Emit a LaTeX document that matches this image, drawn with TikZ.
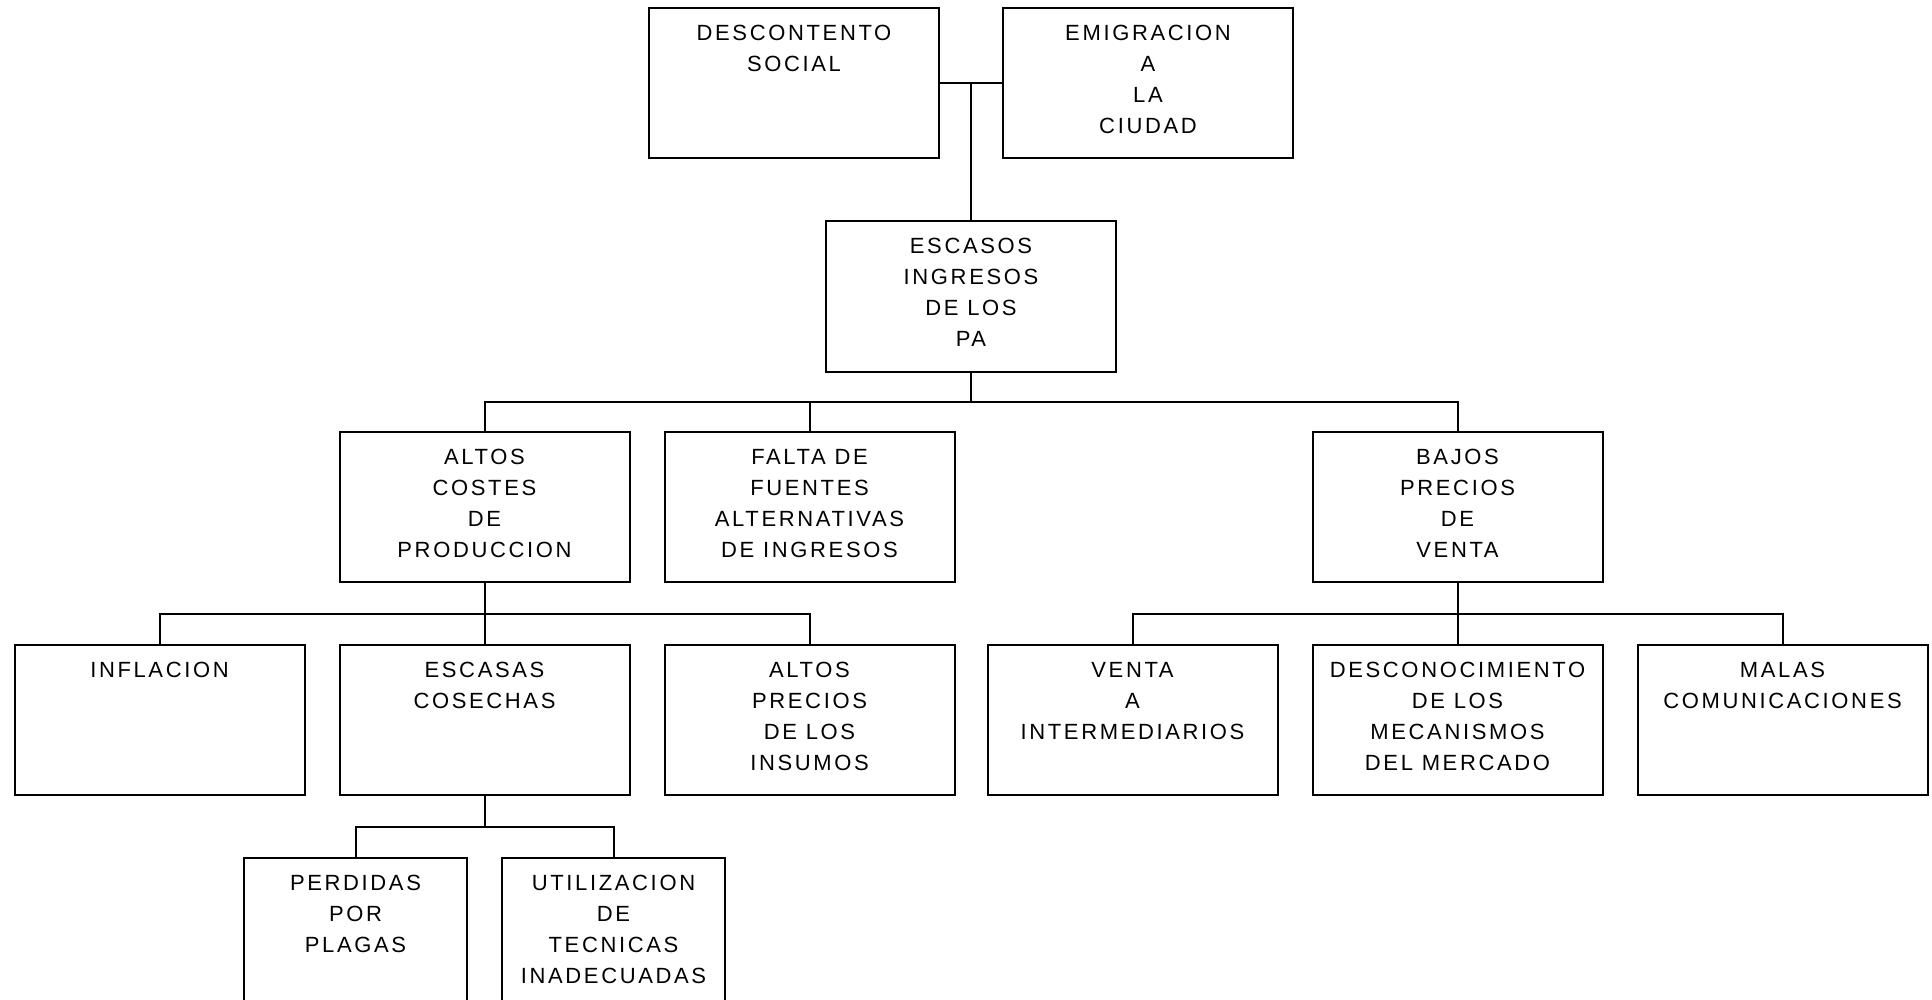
\documentclass[tikz,border=0pt]{standalone}
\usepackage{fontspec}
\setmainfont{Liberation Sans}[LetterSpace=12]
\usepackage{tikz}
\usetikzlibrary{positioning, calc}

% text of a box, set from its top edge
\newcommand{\caja}[2][145pt]{\parbox[c][75pt][t]{#1}{\centering\rule{0pt}{16pt}#2}}

\begin{document}
\begin{tikzpicture}[x=0.5pt, y=-0.5pt, line width=1pt, font=\fontsize{11}{15.5}\selectfont]
        % Styles
        \tikzstyle{box} = [draw, rectangle, inner sep=0pt]

        \useasboundingbox (0,0) rectangle (1932,1000);
        \clip (0,0) rectangle (1932,1000);

        % Nodes
        \node [box] (ingresos) at (971,296.5) {\caja{ESCASOS\\INGRESOS\\DE LOS\\PA}};
        \node [box, anchor=south east] (descontento) at ([xshift=-15.5pt, yshift=30.5pt]ingresos.north) {\caja{DESCONTENTO\\SOCIAL}};
        \node [box, anchor=south west] (emigracion) at ([xshift=15.5pt, yshift=30.5pt]ingresos.north) {\caja{EMIGRACION\\A\\LA\\CIUDAD}};

        \node [box] (altos) at (484.5,507) {\caja{ALTOS\\COSTES\\DE\\PRODUCCION}};
        \node [box, right=16.5pt of altos] (falta) {\caja{FALTA DE\\FUENTES\\ALTERNATIVAS\\DE INGRESOS}};
        \node [box] (bajos) at (1457.5,507) {\caja{BAJOS\\PRECIOS\\DE\\VENTA}};

        \node [box, below=30.5pt of altos] (escasas) {\caja{ESCASAS\\COSECHAS}};
        \node [box, left=16.5pt of escasas] (inflacion) {\caja{INFLACION}};
        \node [box, right=16.5pt of escasas] (insumos) {\caja{ALTOS\\PRECIOS\\DE LOS\\INSUMOS}};

        \node [box, below=30.5pt of bajos] (desconocimiento) {\caja{DESCONOCIMIENTO\\DE LOS\\MECANISMOS\\DEL MERCADO}};
        \node [box, left=16.5pt of desconocimiento] (venta) {\caja{VENTA\\A\\INTERMEDIARIOS}};
        \node [box, right=16.5pt of desconocimiento] (malas) {\caja{MALAS\\COMUNICACIONES}};

        \node [box, below left=30.5pt and 8.25pt of escasas.south] (perdidas) {\caja[111.5pt]{PERDIDAS\\POR\\PLAGAS}};
        \node [box, below right=30.5pt and 8.25pt of escasas.south] (tecnicas) {\caja[111.5pt]{UTILIZACION\\DE\\TECNICAS\\INADECUADAS}};

        % Lines
        \draw (descontento.east) -- (emigracion.west);
        \draw (ingresos.north) -- (ingresos.north |- descontento.east);

        \coordinate (bus1) at ($(ingresos.south)!0.5!(ingresos.south |- altos.north)$);
        \draw (ingresos.south) -- (bus1);
        \draw (altos.north) |- (bus1) -| (bajos.north);
        \draw (falta.north) -- (falta.north |- bus1);

        \coordinate (bus2) at ($(altos.south)!0.5!(escasas.north)$);
        \draw (altos.south) -- (escasas.north);
        \draw (inflacion.north) |- (bus2) -| (insumos.north);

        \coordinate (bus3) at ($(bajos.south)!0.5!(desconocimiento.north)$);
        \draw (bajos.south) -- (desconocimiento.north);
        \draw (venta.north) |- (bus3) -| (malas.north);

        \coordinate (bus4) at ($(escasas.south)!0.5!(escasas.south |- perdidas.north)$);
        \draw (escasas.south) -- (bus4);
        \draw (perdidas.north) |- (bus4) -| (tecnicas.north);
    \end{tikzpicture}
\end{document}
